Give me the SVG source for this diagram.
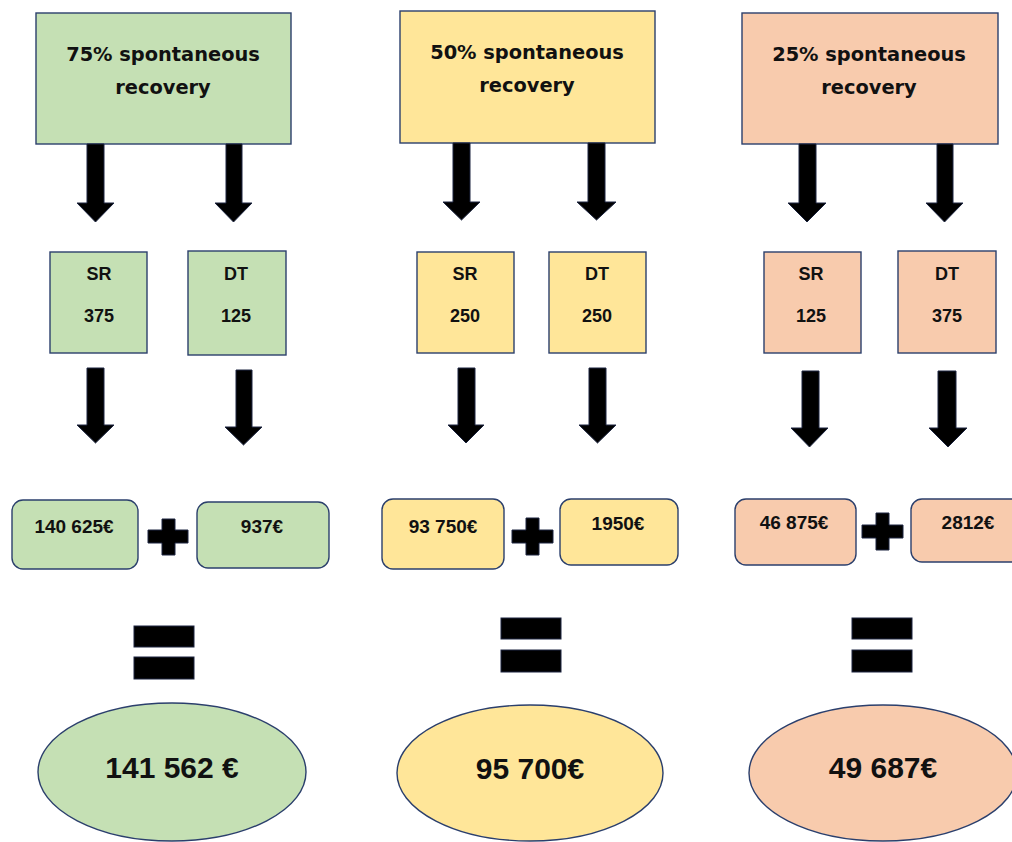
<svg xmlns="http://www.w3.org/2000/svg" width="1012" height="842" viewBox="0 0 1012 842">
<style>
.g{fill:#C5E0B4}.y{fill:#FFE699}.o{fill:#F8CBAD}
.b{stroke:#2B3F6C;stroke-width:1.4}
.t1{font-family:"DejaVu Sans",sans-serif;font-weight:bold;font-size:19.4px;fill:#111;text-anchor:middle}
.t2{font-family:"Liberation Sans",Arial,sans-serif;font-weight:bold;font-size:18px;fill:#111;text-anchor:middle}
.t3{font-family:"Liberation Sans",Arial,sans-serif;font-weight:bold;font-size:19px;fill:#111;text-anchor:middle}
.t4{font-family:"Liberation Sans",Arial,sans-serif;font-weight:bold;font-size:30px;fill:#111;text-anchor:middle}
.ar{fill:#000;stroke:#1c2540;stroke-width:1}
.op{fill:#000;stroke:#1c2540;stroke-width:1}
</style>
<rect width="1012" height="842" fill="#fff"/>

<g id="top-75"><rect class="g b" x="36" y="13" width="255" height="131"/><text class="t1" x="163" y="61">75% spontaneous</text><text class="t1" x="163" y="94">recovery</text></g>
<g id="top-50"><rect class="y b" x="400" y="11" width="255" height="132"/><text class="t1" x="527" y="59">50% spontaneous</text><text class="t1" x="527" y="92">recovery</text></g>
<g id="top-25"><rect class="o b" x="742" y="13" width="256" height="131"/><text class="t1" x="869" y="61">25% spontaneous</text><text class="t1" x="869" y="94">recovery</text></g>

<g id="sr-75"><rect class="g b" x="50" y="252" width="97" height="101"/><text class="t2" x="99" y="280">SR</text><text class="t2" x="99" y="322">375</text></g>
<g id="dt-75"><rect class="g b" x="188" y="251" width="98" height="104"/><text class="t2" x="236" y="280">DT</text><text class="t2" x="236" y="322">125</text></g>
<g id="sr-50"><rect class="y b" x="417" y="252" width="97" height="101"/><text class="t2" x="465" y="280">SR</text><text class="t2" x="465" y="322">250</text></g>
<g id="dt-50"><rect class="y b" x="549" y="252" width="97" height="101"/><text class="t2" x="597" y="280">DT</text><text class="t2" x="597" y="322">250</text></g>
<g id="sr-25"><rect class="o b" x="764" y="252" width="97" height="101"/><text class="t2" x="811" y="280">SR</text><text class="t2" x="811" y="322">125</text></g>
<g id="dt-25"><rect class="o b" x="898" y="251" width="98" height="102"/><text class="t2" x="947" y="280">DT</text><text class="t2" x="947" y="322">375</text></g>

<g id="cost-sr-75"><rect class="g b" x="12" y="500" width="126" height="69" rx="11"/><text class="t3" x="74" y="533">140 625€</text></g>
<g id="cost-dt-75"><rect class="g b" x="197" y="502" width="132" height="66" rx="11"/><text class="t3" x="262" y="533">937€</text></g>
<g id="cost-sr-50"><rect class="y b" x="382" y="499" width="122" height="70" rx="11"/><text class="t3" x="443" y="533">93 750€</text></g>
<g id="cost-dt-50"><rect class="y b" x="560" y="499" width="118" height="66" rx="11"/><text class="t3" x="618" y="530">1950€</text></g>
<g id="cost-sr-25"><rect class="o b" x="735" y="499" width="121" height="66" rx="11"/><text class="t3" x="794" y="529">46 875€</text></g>
<g id="cost-dt-25"><rect class="o b" x="911" y="499" width="114" height="63" rx="11"/><text class="t3" x="968" y="529">2812€</text></g>

<g id="plus-75"><polygon class="op" points="162,519 175,519 175,530 188,530 188,543 175,543 175,555 162,555 162,543 148,543 148,530 162,530"/></g>
<g id="plus-50"><polygon class="op" points="526,518 539,518 539,530 553,530 553,543 539,543 539,555 526,555 526,543 512,543 512,530 526,530"/></g>
<g id="plus-25"><polygon class="op" points="876,513 889,513 889,525 903,525 903,538 889,538 889,550 876,550 876,538 862,538 862,525 876,525"/></g>

<g id="equals-75"><rect class="op" x="134" y="626" width="60" height="21"/><rect class="op" x="134" y="657" width="60" height="22"/></g>
<g id="equals-50"><rect class="op" x="501" y="618" width="60" height="21"/><rect class="op" x="501" y="650" width="60" height="22"/></g>
<g id="equals-25"><rect class="op" x="852" y="618" width="60" height="21"/><rect class="op" x="852" y="650" width="60" height="22"/></g>

<g id="total-75"><ellipse class="g b" cx="172" cy="772" rx="134" ry="69"/><text class="t4" x="172" y="778">141 562 €</text></g>
<g id="total-50"><ellipse class="y b" cx="530" cy="773" rx="133" ry="68"/><text class="t4" x="530" y="779">95 700€</text></g>
<g id="total-25"><ellipse class="o b" cx="883" cy="773" rx="134" ry="68"/><text class="t4" x="883" y="778">49 687€</text></g>

<g id="connectors">
<polygon class="ar" points="87,144 104,144 104,203 114,203 95.5,222 77,203 87,203"/>
<polygon class="ar" points="226,144 242,144 242,203 252,203 233.5,222 215,203 226,203"/>
<polygon class="ar" points="87,368 104,368 104,425 114,425 95.5,443 77,425 87,425"/>
<polygon class="ar" points="236,370 252,370 252,427 262,427 243.5,445 225,427 236,427"/>
<polygon class="ar" points="453,143 470,143 470,202 480,202 461.5,220 443,202 453,202"/>
<polygon class="ar" points="588,143 605,143 605,202 616,202 596.5,220 577,202 588,202"/>
<polygon class="ar" points="458,368 475,368 475,425 484,425 466,443 448,425 458,425"/>
<polygon class="ar" points="589,368 606,368 606,425 616,425 597.5,443 579,425 589,425"/>
<polygon class="ar" points="799,144 816,144 816,203 826,203 807,222 788,203 799,203"/>
<polygon class="ar" points="937,144 953,144 953,203 963,203 944.5,222 926,203 937,203"/>
<polygon class="ar" points="802,371 819,371 819,428 828,428 809.5,447 791,428 802,428"/>
<polygon class="ar" points="938,371 956,371 956,428 967,428 948,447 929,428 938,428"/>
</g>
</svg>
